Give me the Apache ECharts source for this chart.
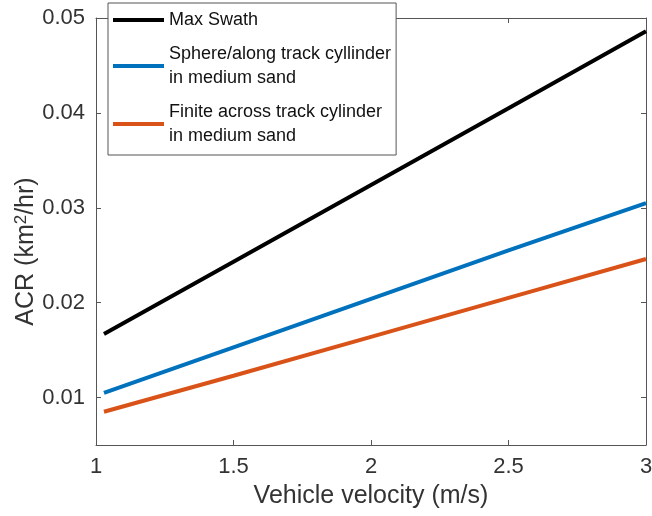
<!DOCTYPE html>
<html>
<head>
<meta charset="utf-8">
<script src="https://cdn.jsdelivr.net/npm/echarts@6/dist/echarts.min.js"></script>
<style>
  html, body { margin: 0; padding: 0; background: #fff; }
  #chart { width: 652px; height: 516px; }
</style>
</head>
<body>
<div id="chart"></div>
<script>
'use strict';

// vehicle velocity (m/s)
const velocity = [1.029, 1.5, 2, 2.5, 3];
// ACR values (km^2/hr)
const maxSwath = [0.0167, 0.0243, 0.0324, 0.0405, 0.0486];
const sphereAlong = [0.0105, 0.0153, 0.0204, 0.0255, 0.0305];
const finiteAcross = [0.0085, 0.0123, 0.0164, 0.0205, 0.0246];

const xTicks = [1, 1.5, 2, 2.5, 3];
const yTicks = [0.01, 0.02, 0.03, 0.04, 0.05];

const seriesNames = [
  'Max Swath',
  'Sphere/along track cyllinder\nin medium sand',
  'Finite across track cylinder\nin medium sand'
];
const seriesColors = ['#000000', '#0072BD', '#D95319'];

const font = '"Liberation Sans", Arial, Helvetica, sans-serif';
const axisColor = '#555555';
const textColor = '#333333';

const pairs = ys => velocity.map((x, i) => [x, ys[i]]);

function lineSeries(name, ys, color) {
  return {
    type: 'line',
    name: name,
    data: pairs(ys),
    showSymbol: false,
    symbol: 'none',
    lineStyle: { color: color, width: 4 },
    itemStyle: { color: color },
    animation: false
  };
}

const chart = echarts.init(document.getElementById('chart'), null, { renderer: 'canvas' });

// shared axis look, MATLAB-ish: box with inward ticks
const baseAxis = {
  type: 'value',
  axisLine: { show: true, lineStyle: { color: axisColor, width: 1 } },
  axisTick: { show: true, inside: true, length: 5, lineStyle: { color: axisColor } },
  splitLine: { show: false }
};

chart.setOption({
  backgroundColor: '#ffffff',
  animation: false,
  grid: { left: 96, right: 6, top: 18, bottom: 71, outerBoundsMode: 'none', containLabel: false },
  legend: {
    orient: 'vertical',
    left: 108,
    top: 3,
    padding: [5, 5, 7, 5],
    itemGap: 10,
    itemWidth: 51,
    itemHeight: 4,
    icon: 'rect',
    backgroundColor: '#ffffff',
    borderColor: axisColor,
    borderWidth: 1,
    borderRadius: 0,
    textStyle: { fontFamily: font, fontSize: 18, color: '#111', lineHeight: 24 },
    data: seriesNames
  },
  xAxis: [
    {
      ...baseAxis,
      min: 1,
      max: 3,
      position: 'bottom',
      name: 'Vehicle velocity (m/s)',
      nameLocation: 'middle',
      nameGap: 39,
      nameMoveOverlap: false,
      nameTextStyle: { fontFamily: font, fontSize: 25, color: textColor },
      axisTick: { ...baseAxis.axisTick, customValues: xTicks },
      axisLabel: {
        customValues: xTicks,
        margin: 11,
        fontFamily: font,
        fontSize: 22,
        color: textColor,
        formatter: v => String(v)
      }
    },
    {
      ...baseAxis,
      min: 1,
      max: 3,
      position: 'top',
      axisTick: { ...baseAxis.axisTick, customValues: xTicks },
      axisLabel: { show: false }
    }
  ],
  yAxis: [
    {
      ...baseAxis,
      min: 0.005,
      max: 0.05,
      position: 'left',
      name: 'ACR (km{sup|2}/hr)',
      nameLocation: 'middle',
      nameGap: 56,
      nameMoveOverlap: false,
      nameTextStyle: {
        fontFamily: font,
        fontSize: 25,
        color: textColor,
        padding: [0, 40, 0, 0],
        rich: { sup: { fontFamily: font, fontSize: 17, color: textColor, verticalAlign: 'top', padding: [0, 0, 10, 0] } }
      },
      axisTick: { ...baseAxis.axisTick, customValues: yTicks },
      axisLabel: {
        customValues: yTicks,
        margin: 11,
        fontFamily: font,
        fontSize: 22,
        color: textColor,
        formatter: v => v.toFixed(2)
      }
    },
    {
      ...baseAxis,
      min: 0.005,
      max: 0.05,
      position: 'right',
      axisTick: { ...baseAxis.axisTick, customValues: yTicks },
      axisLabel: { show: false }
    }
  ],
  series: [
    lineSeries(seriesNames[0], maxSwath, seriesColors[0]),
    lineSeries(seriesNames[1], sphereAlong, seriesColors[1]),
    lineSeries(seriesNames[2], finiteAcross, seriesColors[2])
  ]
});
</script>
</body>
</html>
